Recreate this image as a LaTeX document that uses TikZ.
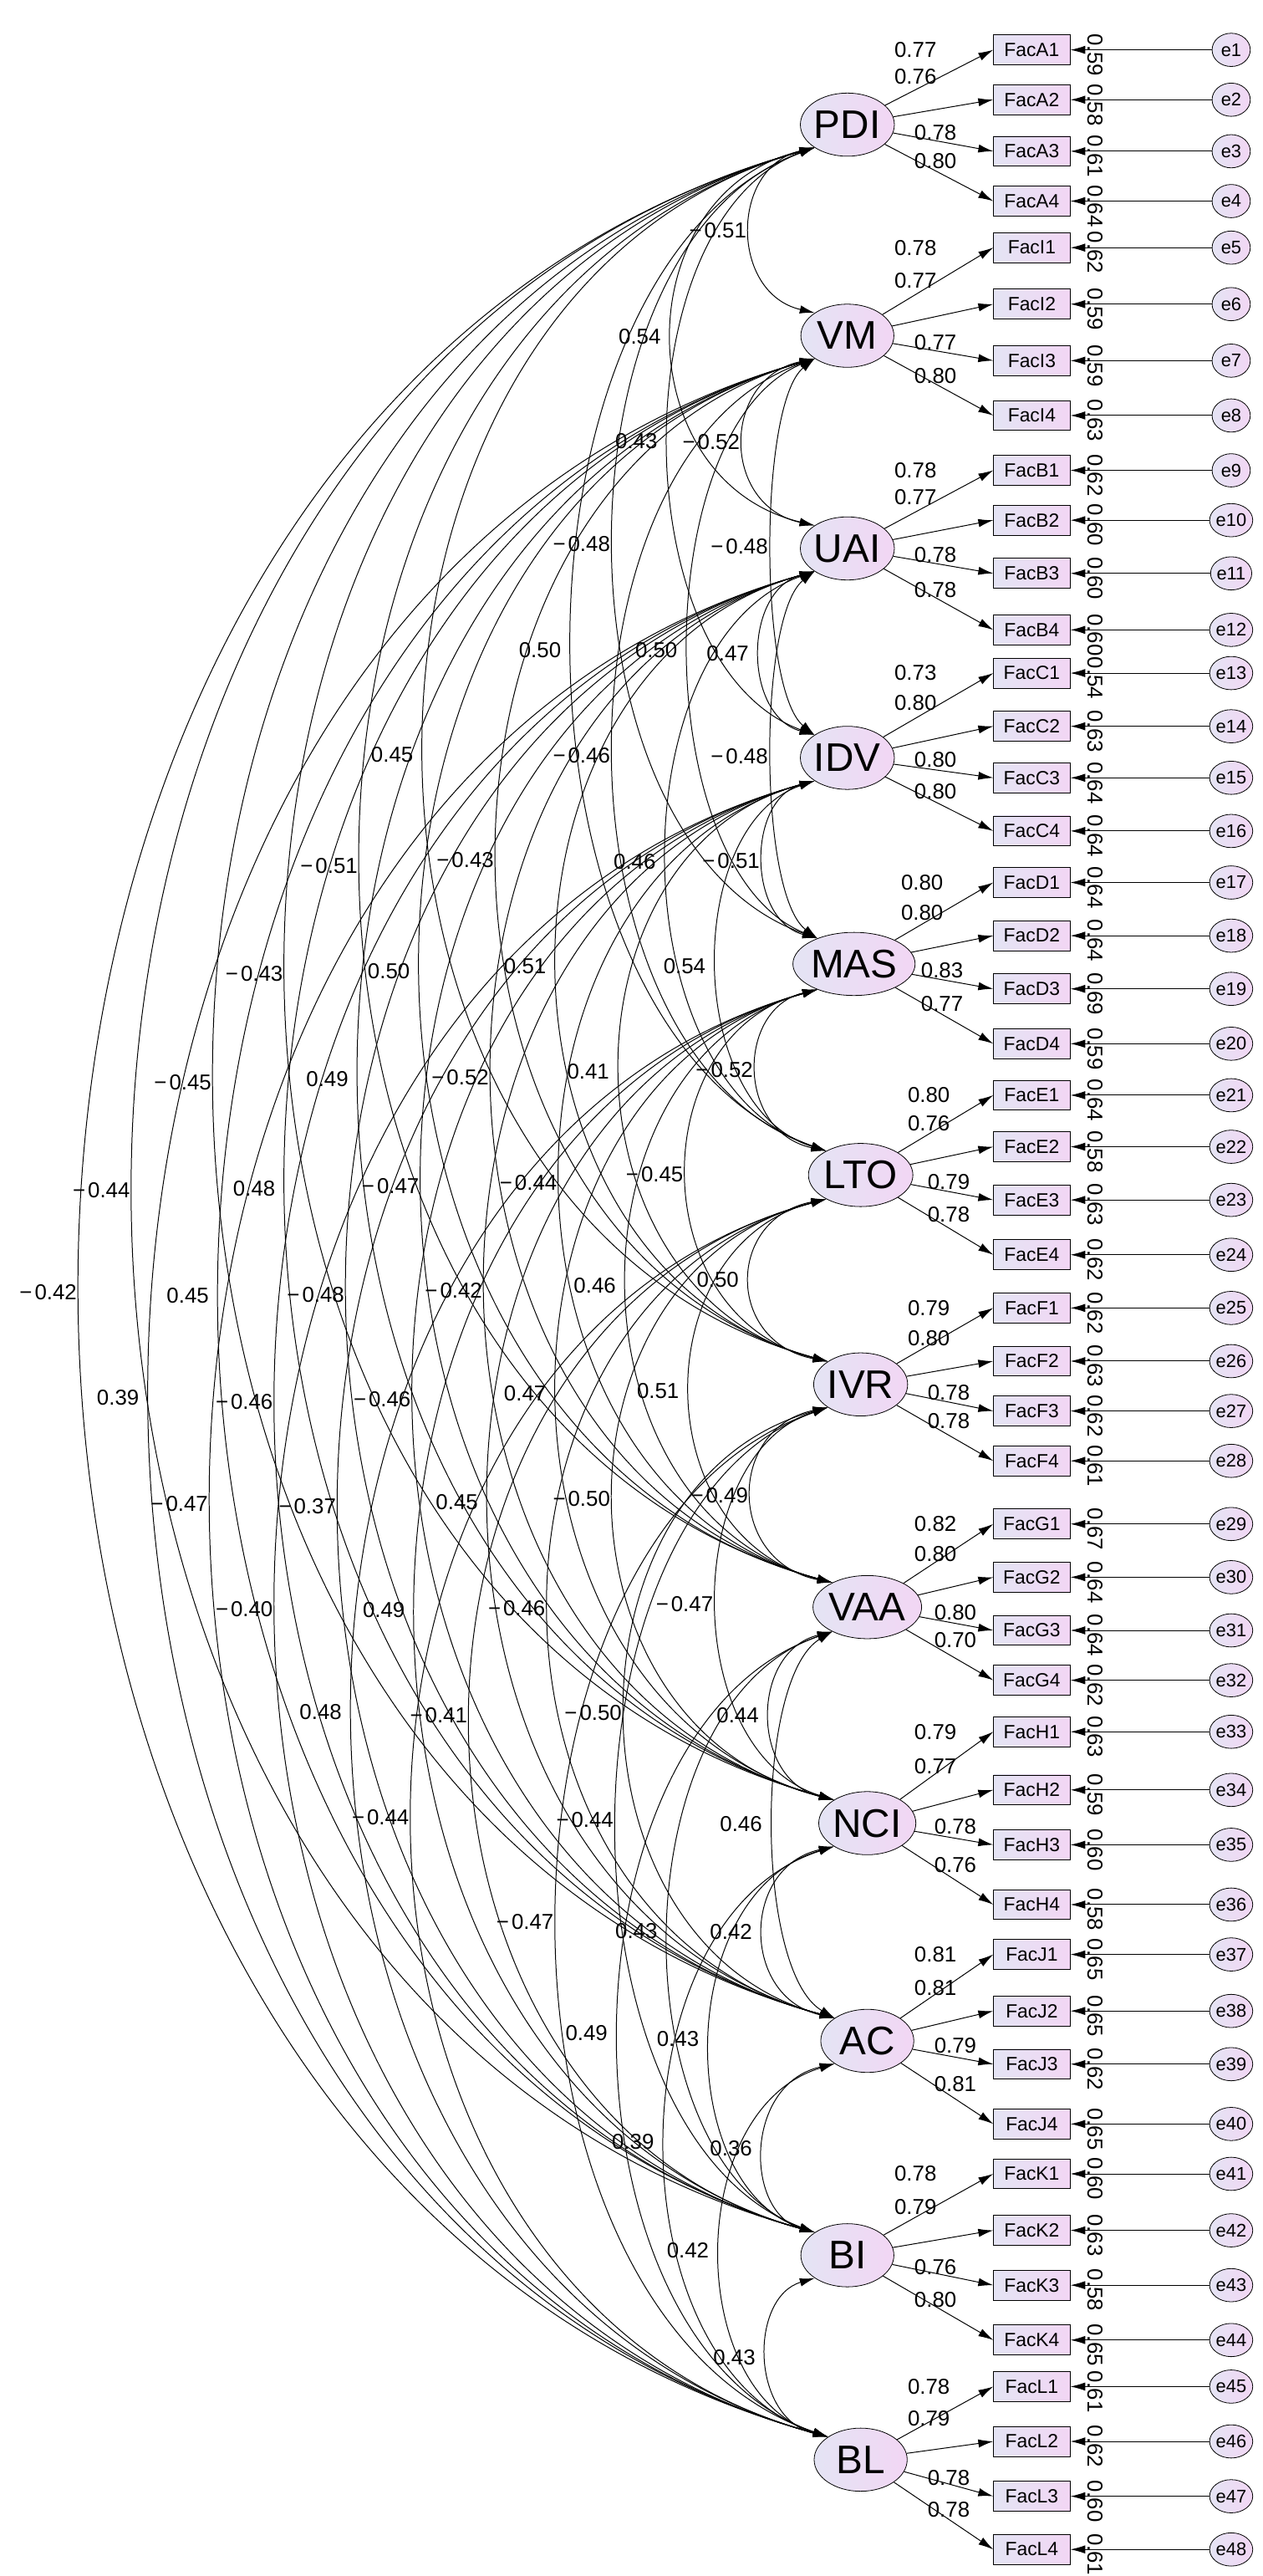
\documentclass[tikz,border=0pt]{standalone}
\usepackage{fontspec}
\setmainfont{Liberation Sans}
\usetikzlibrary{arrows.meta,calc,shapes.geometric}
\definecolor{shL}{RGB}{228,228,244}
\definecolor{shR}{RGB}{242,214,244}
\tikzset{
  lat/.style={ellipse,draw,thin,minimum width=56pt,minimum height=38pt,inner sep=0pt,left color=shL,right color=shR,font=\fontsize{24}{24}\selectfont},
  itembox/.style={rectangle,draw,thin,minimum width=46pt,minimum height=18pt,inner sep=0pt,left color=shL,right color=shR,font=\fontsize{11.5}{11.5}\selectfont},
  errnode/.style={ellipse,draw,thin,minimum width=23pt,minimum height=20pt,inner sep=0pt,left color=shL,right color=shR,font=\fontsize{11}{11}\selectfont},
  cov/.style={line width=0.5pt,{Latex[length=9pt,width=5pt]}-{Latex[length=9pt,width=5pt]}},
  load/.style={line width=0.5pt,-{Latex[length=9pt,width=5pt]}},
  numlab/.style={inner sep=0pt,font=\fontsize{13}{13}\selectfont},
}
\newcommand\mycov[4]{%
  \draw[cov] let \p1=(L#1.215), \p2=(L#2.145),
     \n1={(8*(#3pt+20pt)-\x1-\x2)/6}, \n2={0.12*(\y2-\y1)} in
     (\p1) .. controls (\n1,{\y1+\n2}) and (\n1,{\y2-\n2}) .. (\p2);
  \path let \p1=(L#1), \p2=(L#2) in node[numlab] at (#3pt,{0.5*\y1+0.5*\y2}) {#4};}
\def\mm{−\kern1.5pt}
\begin{document}
\begin{tikzpicture}[x=1pt,y=-1pt]
\useasboundingbox (0,0) rectangle (760,1550);
\foreach \i/\x/\y/\nm in {0/510/75/PDI,1/510/202/VM,2/510/330/UAI,3/510/456/IDV,4/514/580/MAS,5/518/707/LTO,6/518/833/IVR,7/522/967/VAA,8/522/1097/NCI,9/522/1228/AC,10/510/1357/BI,11/518/1480/BL}
  \node[lat] (L\i) at (\x,\y) {\nm};
\foreach \l/\ch/\k/\y/\s/\w [count=\n] in {
0/A/1/30/0.59/0.77,0/A/2/60/0.58/0.76,0/A/3/91/0.61/0.78,0/A/4/121/0.64/0.80,
1/I/1/149/0.62/0.78,1/I/2/183/0.59/0.77,1/I/3/217/0.59/0.77,1/I/4/250/0.63/0.80,
2/B/1/283/0.62/0.78,2/B/2/313/0.60/0.77,2/B/3/345/0.60/0.78,2/B/4/379/0.60/0.78,
3/C/1/405/0.54/0.73,3/C/2/437/0.63/0.80,3/C/3/468/0.64/0.80,3/C/4/500/0.64/0.80,
4/D/1/531/0.64/0.80,4/D/2/563/0.64/0.80,4/D/3/595/0.69/0.83,4/D/4/628/0.59/0.77,
5/E/1/659/0.64/0.80,5/E/2/690/0.58/0.76,5/E/3/722/0.63/0.79,5/E/4/755/0.62/0.78,
6/F/1/787/0.62/0.79,6/F/2/819/0.63/0.80,6/F/3/849/0.62/0.78,6/F/4/879/0.61/0.78,
7/G/1/917/0.67/0.82,7/G/2/949/0.64/0.80,7/G/3/981/0.64/0.80,7/G/4/1011/0.62/0.70,
8/H/1/1042/0.63/0.79,8/H/2/1077/0.59/0.77,8/H/3/1110/0.60/0.78,8/H/4/1146/0.58/0.76,
9/J/1/1176/0.65/0.81,9/J/2/1210/0.65/0.81,9/J/3/1242/0.62/0.79,9/J/4/1278/0.65/0.81,
10/K/1/1308/0.60/0.78,10/K/2/1342/0.63/0.79,10/K/3/1375/0.58/0.76,10/K/4/1408/0.65/0.80,
11/L/1/1436/0.61/0.78,11/L/2/1469/0.62/0.79,11/L/3/1502/0.60/0.78,11/L/4/1534/0.61/0.78}{
  \node[itembox] (I\n) at (621,\y) {Fac\ch\k};
  \node[errnode] (E\n) at (741,\y) {e\n};
  \draw[load] (L\l) -- (I\n.west);
  \draw[load] (E\n) -- (I\n.east);
  \node[numlab,rotate=-90] at (659,\y+3) {\s};
  \ifcase\k\or\def\dx{41}\def\dy{0}\or\def\dx{41}\def\dy{-14}\or\def\dx{53}\def\dy{-11}\or\def\dx{53}\def\dy{-24}\fi
  \path (L\l.center |- I\n.center) ++(\dx,\dy) node[numlab] {\w};
}
\mycov{0}{1}{432}{\mm0.51}
\mycov{0}{2}{385}{0.54}
\mycov{0}{3}{383}{0.43}\mycov{1}{2}{428}{\mm0.52}
\mycov{0}{4}{350}{\mm0.48}\mycov{1}{3}{445}{\mm0.48}
\mycov{0}{5}{325}{0.50}\mycov{1}{4}{395}{0.50}\mycov{2}{3}{438}{0.47}
\mycov{0}{6}{236}{0.45}\mycov{1}{5}{350}{\mm0.46}\mycov{2}{4}{445}{\mm0.48}
\mycov{0}{7}{198}{\mm0.51}\mycov{1}{6}{280}{\mm0.43}\mycov{2}{5}{382}{0.46}\mycov{3}{4}{440}{\mm0.51}
\mycov{0}{8}{153}{\mm0.43}\mycov{1}{7}{234}{0.50}\mycov{2}{6}{316}{0.51}\mycov{3}{5}{412}{0.54}
\mycov{0}{9}{110}{\mm0.45}\mycov{1}{8}{197}{0.49}\mycov{2}{7}{277}{\mm0.52}\mycov{3}{6}{354}{0.41}\mycov{4}{5}{436}{\mm0.52}
\mycov{0}{10}{61}{\mm0.44}\mycov{1}{9}{153}{0.48}\mycov{2}{8}{235}{\mm0.47}\mycov{3}{7}{318}{\mm0.44}\mycov{4}{6}{394}{\mm0.45}
\mycov{0}{11}{29}{\mm0.42}\mycov{1}{10}{113}{0.45}\mycov{2}{9}{190}{\mm0.48}\mycov{3}{8}{273}{\mm0.42}\mycov{4}{7}{358}{0.46}\mycov{5}{6}{432}{0.50}
\mycov{1}{11}{71}{0.39}\mycov{2}{10}{147}{\mm0.46}\mycov{3}{9}{230}{\mm0.46}\mycov{4}{8}{316}{0.47}\mycov{5}{7}{396}{0.51}
\mycov{2}{11}{108}{\mm0.47}\mycov{3}{10}{185}{\mm0.37}\mycov{4}{9}{275}{0.45}\mycov{5}{8}{350}{\mm0.50}\mycov{6}{7}{433}{\mm0.49}
\mycov{3}{11}{147}{\mm0.40}\mycov{4}{10}{231}{0.49}\mycov{5}{9}{311}{\mm0.46}\mycov{6}{8}{412}{\mm0.47}
\mycov{4}{11}{193}{0.48}\mycov{5}{10}{264}{\mm0.41}\mycov{6}{9}{357}{\mm0.50}\mycov{7}{8}{444}{0.44}
\mycov{5}{11}{229}{\mm0.44}\mycov{6}{10}{352}{\mm0.44}\mycov{7}{9}{446}{0.46}
\mycov{6}{11}{316}{\mm0.47}\mycov{7}{10}{383}{0.43}\mycov{8}{9}{440}{0.42}
\mycov{7}{11}{353}{0.49}\mycov{8}{10}{408}{0.43}
\mycov{8}{11}{381}{0.39}\mycov{9}{10}{440}{0.36}
\mycov{9}{11}{414}{0.42}
\mycov{10}{11}{442}{0.43}
\end{tikzpicture}
\end{document}
